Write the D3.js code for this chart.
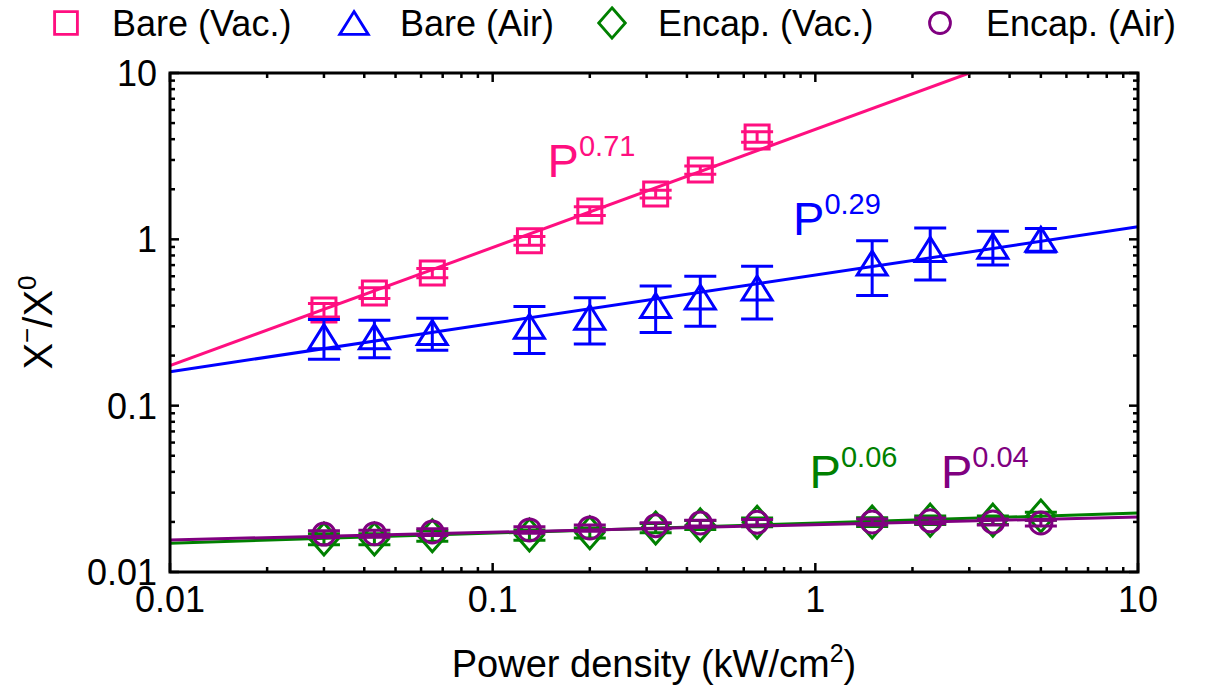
<!DOCTYPE html>
<html>
<head>
<meta charset="utf-8">
<script src="https://cdn.jsdelivr.net/npm/d3@7"></script>
<style>
  body { margin: 0; background: #fff; }
  text { font-family: "Liberation Sans", Arial, sans-serif; }
</style>
</head>
<body>
<script>
// power density (kW/cm2)
const powerAll = [0.03, 0.043, 0.065, 0.13, 0.2, 0.32, 0.44, 0.66, 1.5, 2.27, 3.55, 5.0];
const powerVac = powerAll.slice(0, 8);

const bareVacY = [0.376, 0.476, 0.628, 0.98, 1.48, 1.87, 2.61, 4.13];
const bareVacErr = [0.035, 0.035, 0.04, 0.06, 0.09, 0.1, 0.15, 0.3];

const bareAirY = [0.26, 0.26, 0.275, 0.30, 0.34, 0.40, 0.45, 0.51, 0.72, 0.87, 0.91, 1.0];
const bareAirErr = [0.07, 0.066, 0.06, 0.094, 0.105, 0.125, 0.15, 0.178, 0.26, 0.30, 0.21, 0.16];

const encapVacY = [0.0158, 0.0158, 0.0165, 0.0167, 0.0172, 0.0184, 0.0192, 0.0199, 0.0200, 0.0205, 0.0205, 0.0217];
const encapVacErr = [0.0012, 0.0012, 0.0012, 0.0012, 0.0012, 0.0012, 0.0012, 0.0012, 0.0012, 0.0012, 0.0012, 0.0012];

const encapAirY = [0.0169, 0.0170, 0.0174, 0.0179, 0.0184, 0.0190, 0.0197, 0.0199, 0.0200, 0.0203, 0.0200, 0.0197];
const encapAirErr = [0.0008, 0.0008, 0.0008, 0.0008, 0.0008, 0.0008, 0.0008, 0.0008, 0.0008, 0.0008, 0.0008, 0.0008];

// power-law fit end points
const bareVacFit = [[0.01, 0.174], [3.0, 10]];
const bareAirFit = [[0.01, 0.160], [10, 1.19]];
const encapVacFit = [[0.01, 0.0149], [10, 0.0226]];
const encapAirFit = [[0.01, 0.0156], [10, 0.0214]];

const fitExponents = ['0.71', '0.29', '0.06', '0.04'];
const fitLabelAt = [[0.148, 2.37], [0.853, 1.06], [0.96, 0.032], [2.45, 0.032]];

const xTicks = [0.01, 0.1, 1, 10];
const yTicks = [0.01, 0.1, 1, 10];
const xTickLabels = ['0.01', '0.1', '1', '10'];
const yTickLabels = ['0.01', '0.1', '1', '10'];

const seriesNames = ['Bare (Vac.)', 'Bare (Air)', 'Encap. (Vac.)', 'Encap. (Air)'];
const colors = ['#ff0f80', '#0000ff', '#008000', '#800080'];

const width = 1207, height = 697;
const padding = {left: 170, right: 69, top: 73, bottom: 125};
const contentWidth = width - padding.left - padding.right;
const contentHeight = height - padding.top - padding.bottom;

const x = d3.scaleLog().domain([0.01, 10]).range([0, contentWidth]);
const y = d3.scaleLog().domain([0.01, 10]).range([contentHeight, 0]);

const shapes = {
  square: 'M-12,-12H12V12H-12Z',
  triangle: 'M0,-12L15,12L-15,12Z',
  diamond: 'M0,-16L14,0L0,16L-14,0Z',
  circle: 'M-11,0A11,11 0 1,0 11,0A11,11 0 1,0 -11,0Z'
};

const series = [
  {xs: powerVac, ys: bareVacY, err: bareVacErr, fit: bareVacFit, shape: 'square'},
  {xs: powerAll, ys: bareAirY, err: bareAirErr, fit: bareAirFit, shape: 'triangle'},
  {xs: powerAll, ys: encapVacY, err: encapVacErr, fit: encapVacFit, shape: 'diamond'},
  {xs: powerAll, ys: encapAirY, err: encapAirErr, fit: encapAirFit, shape: 'circle'}
];

const $svg = d3.select('body').append('svg').attr('width', width).attr('height', height);
const $content = $svg.append('g').attr('transform', `translate(${padding.left}, ${padding.top})`);

$svg.append('defs').append('clipPath').attr('id', 'plot')
  .append('rect').attr('width', contentWidth).attr('height', contentHeight);

// ticks, mirrored on all sides, pointing inward
const minor = (scale) => scale.ticks().filter(t => !xTicks.includes(t));
const tickLen = (t, ticks) => ticks.includes(t) ? 9 : 5;
const allX = x.ticks();
const allY = y.ticks();

const $ticks = $content.append('g').attr('stroke', '#000').attr('stroke-width', 2.5);
allX.forEach(t => {
  const l = tickLen(t, xTicks);
  $ticks.append('line').attr('x1', x(t)).attr('x2', x(t)).attr('y1', contentHeight).attr('y2', contentHeight - l);
  $ticks.append('line').attr('x1', x(t)).attr('x2', x(t)).attr('y1', 0).attr('y2', l);
});
allY.forEach(t => {
  const l = tickLen(t, yTicks);
  $ticks.append('line').attr('y1', y(t)).attr('y2', y(t)).attr('x1', 0).attr('x2', l);
  $ticks.append('line').attr('y1', y(t)).attr('y2', y(t)).attr('x1', contentWidth).attr('x2', contentWidth - l);
});

$content.append('g').selectAll('text').data(xTicks).enter().append('text')
  .attr('x', d => x(d)).attr('y', contentHeight + 40)
  .attr('text-anchor', 'middle').attr('font-size', 36)
  .text((d, i) => xTickLabels[i]);

$content.append('g').selectAll('text').data(yTicks).enter().append('text')
  .attr('x', -13).attr('y', d => y(d) + 13)
  .attr('text-anchor', 'end').attr('font-size', 36)
  .text((d, i) => yTickLabels[i]);

// fit lines
const line = d3.line().x(d => x(d[0])).y(d => y(d[1]));
const $data = $content.append('g').attr('clip-path', 'url(#plot)');

series.forEach((s, i) => {
  const pts = s.xs.map((xv, j) => ({x: xv, y: s.ys[j], e: s.err[j]}));
  const $s = $data.append('g').attr('stroke', colors[i]).attr('fill', 'none').attr('stroke-width', 3);

  const $err = $s.selectAll('.err').data(pts).enter().append('g').attr('class', 'err');
  $err.append('line')
    .attr('x1', d => x(d.x)).attr('x2', d => x(d.x))
    .attr('y1', d => y(d.y + d.e)).attr('y2', d => y(d.y - d.e));
  $err.append('line')
    .attr('x1', d => x(d.x) - 16).attr('x2', d => x(d.x) + 16)
    .attr('y1', d => y(d.y + d.e)).attr('y2', d => y(d.y + d.e));
  $err.append('line')
    .attr('x1', d => x(d.x) - 16).attr('x2', d => x(d.x) + 16)
    .attr('y1', d => y(d.y - d.e)).attr('y2', d => y(d.y - d.e));

  $s.selectAll('.mark').data(pts).enter().append('path').attr('class', 'mark')
    .attr('d', shapes[s.shape])
    .attr('transform', d => `translate(${x(d.x)}, ${y(d.y)})`);

  $s.append('path').datum(s.fit).attr('d', line);
});

// frame
$content.append('rect').attr('width', contentWidth).attr('height', contentHeight)
  .attr('fill', 'none').attr('stroke', '#000').attr('stroke-width', 3);

// fit labels
fitExponents.forEach((e, i) => {
  const $t = $content.append('text')
    .attr('x', x(fitLabelAt[i][0])).attr('y', y(fitLabelAt[i][1]))
    .attr('fill', colors[i]).attr('font-size', 47);
  $t.append('tspan').text('P');
  $t.append('tspan').attr('font-size', 29).attr('dy', -21).text(e);
});

// axis titles
const $xt = $svg.append('text')
  .attr('x', padding.left + contentWidth / 2).attr('y', 677)
  .attr('text-anchor', 'middle').attr('font-size', 38);
$xt.append('tspan').text('Power density (kW/cm');
$xt.append('tspan').attr('font-size', 25).attr('dy', -15).text('2');
$xt.append('tspan').attr('dy', 15).text(')');

const $yt = $svg.append('text')
  .attr('transform', `translate(52, ${padding.top + contentHeight / 2}) rotate(-90)`)
  .attr('text-anchor', 'middle').attr('font-size', 40);
$yt.append('tspan').text('X');
$yt.append('tspan').attr('font-size', 26).attr('dy', -16).text('\u2212');
$yt.append('tspan').attr('dy', 16).text('/X');
$yt.append('tspan').attr('font-size', 26).attr('dy', -16).text('0');

// legend
const legendMarkX = [66, 354, 612, 940];
const $legend = $svg.append('g');
seriesNames.forEach((name, i) => {
  $legend.append('path').attr('d', shapes[series[i].shape])
    .attr('transform', `translate(${legendMarkX[i]}, 23) scale(0.95)`)
    .attr('fill', 'none').attr('stroke', colors[i]).attr('stroke-width', 3);
  $legend.append('text').attr('x', legendMarkX[i] + 46).attr('y', 36)
    .attr('font-size', 36).text(name);
});
</script>
</body>
</html>
